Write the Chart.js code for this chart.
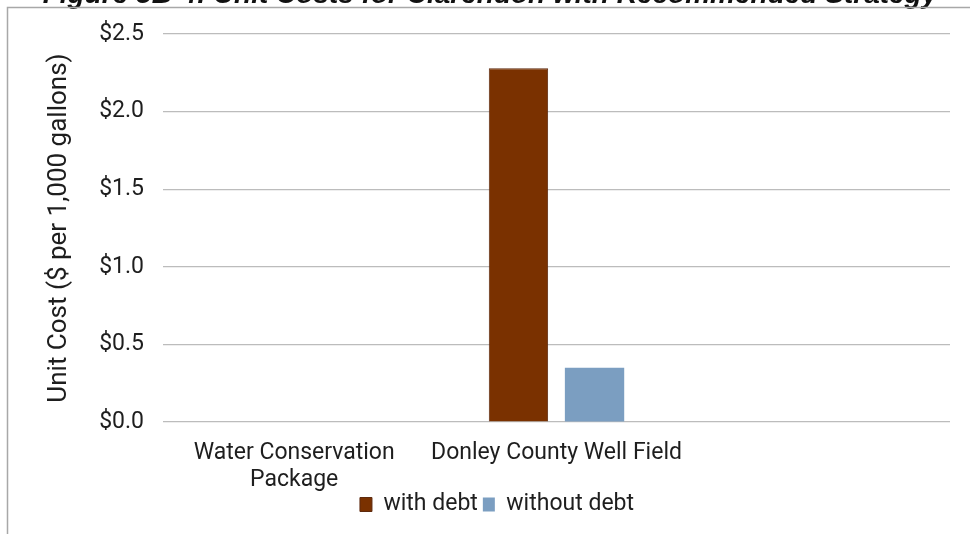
<!DOCTYPE html>
<html>
<head>
<meta charset="utf-8">
<script src="https://cdn.jsdelivr.net/npm/chart.js@4/dist/chart.umd.min.js"></script>
<style>
  html, body { margin: 0; padding: 0; background: #fff; }
  #wrap { position: relative; width: 970px; height: 534px; }
</style>
</head>
<body>
<div id="wrap"><canvas id="chartUnitCost" width="970" height="534"></canvas></div>
<script>
// ── Datos ──
const titulo      = 'Figure 5B-4: Unit Costs for Clarendon with Recommended Strategy';
const categorias  = [['Water Conservation', 'Package'], 'Donley County Well Field', ''];
const seriesNames = ['with debt', 'without debt'];
const conDeuda    = [null, 2.28, null];
const sinDeuda    = [null, 0.35, null];
const yMax = 2.5, yStep = 0.5;

const txtColor = '#1e1e1e';

// ── Marco y título recortado ──
const marcoPlugin = {
    id: 'marco',
    afterLayout(chart) {
        // las etiquetas del eje x se solapan un poco con la leyenda: no recortarlas
        chart.scales.x.bottom = chart.height;
    },
    afterDraw(chart) {
        const ctx = chart.ctx;
        ctx.save();
        ctx.fillStyle = '#111';
        ctx.font = 'italic bold 28px "Liberation Sans", Arial, sans-serif';
        ctx.textAlign = 'center';
        ctx.textBaseline = 'alphabetic';
        ctx.fillText(titulo, 490, 3);
        ctx.strokeStyle = '#a8a8a8';
        ctx.lineWidth = 1.5;
        ctx.beginPath();
        ctx.moveTo(970, 7.5);
        ctx.lineTo(7.5, 7.5);
        ctx.lineTo(7.5, 534);
        ctx.stroke();
        ctx.restore();
    }
};

new Chart(document.getElementById('chartUnitCost').getContext('2d'), {
    type: 'bar',
    data: {
        labels: categorias,
        datasets: [{
            label: seriesNames[0],
            data: conDeuda,
            backgroundColor: '#7a3100',
            borderColor: '#5e2a0e',
            borderWidth: 1,
            categoryPercentage: 0.58,
            barPercentage: 0.78
        }, {
            label: seriesNames[1],
            data: sinDeuda,
            backgroundColor: '#7b9ec1',
            borderWidth: 0,
            categoryPercentage: 0.58,
            barPercentage: 0.78
        }]
    },
    options: {
        responsive: false,
        animation: false,
        devicePixelRatio: 1,
        layout: { padding: { top: 34, left: 44, right: 20, bottom: 8 } },
        plugins: {
            legend: {
                position: 'bottom',
                labels: {
                    boxWidth: 12, boxHeight: 14, padding: 5,
                    color: txtColor,
                    font: { family: 'Roboto', size: 23 }
                }
            },
            tooltip: { enabled: false }
        },
        scales: {
            x: {
                afterFit(s) { s.height = 66; },
                grid: { display: false, drawTicks: false },
                border: { display: false },
                ticks: {
                    color: txtColor, padding: 17, maxRotation: 0, autoSkip: false,
                    font: { family: 'Roboto', size: 23, lineHeight: 1.2 }
                }
            },
            y: {
                min: 0, max: yMax,
                afterFit(s) { s.width = 119; },
                grid: { color: '#bcbcbc', lineWidth: 1.2, drawTicks: false },
                border: { display: false },
                ticks: {
                    stepSize: yStep, padding: 19, color: txtColor,
                    font: { family: 'Roboto', size: 23 },
                    callback: function(v) { return '$' + v.toFixed(1); }
                },
                title: {
                    display: true,
                    text: 'Unit Cost ($ per 1,000 gallons)',
                    color: txtColor,
                    font: { family: 'Roboto', size: 26 },
                    padding: { top: 0, bottom: 8 }
                }
            }
        }
    },
    plugins: [marcoPlugin]
});
</script>
</body>
</html>
